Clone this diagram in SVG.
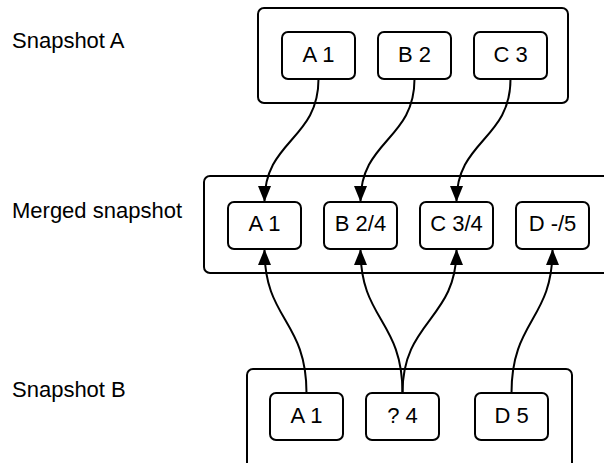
<svg xmlns="http://www.w3.org/2000/svg" width="604" height="463" viewBox="0 0 604 463">
  <style>
    .frame { fill: #fff; stroke: #000; stroke-width: 2; }
    .node rect { fill: #fff; stroke: #000; stroke-width: 2; }
    text { font-family: "Liberation Sans", Arial, sans-serif; font-size: 22px; fill: #000; }
    .node text { text-anchor: middle; }
    .link { fill: none; stroke: #000; stroke-width: 2; marker-end: url(#arrow); }
  </style>
  <defs>
    <marker id="arrow" markerUnits="userSpaceOnUse" viewBox="0 0 16 13" refX="15" refY="6.5" markerWidth="16" markerHeight="13" orient="auto">
      <path d="M0 0 L16 6.5 L0 13 Z" fill="#000"/>
    </marker>
  </defs>

  <!-- row labels -->
  <text x="12" y="48">Snapshot A</text>
  <text x="12" y="218">Merged snapshot</text>
  <text x="12" y="397">Snapshot B</text>

  <!-- container frames -->
  <rect class="frame" x="258" y="8" width="310" height="95" rx="6"/>
  <rect class="frame" x="204" y="176" width="420" height="97" rx="6"/>
  <rect class="frame" x="247" y="369" width="325" height="110" rx="6"/>

  <!-- Snapshot A -->
  <g id="a-a1" class="node"><rect x="282" y="32" width="73" height="47" rx="6"/><text x="318.5" y="62">A 1</text></g>
  <g id="a-b2" class="node"><rect x="378" y="32" width="73" height="47" rx="6"/><text x="414.5" y="62">B 2</text></g>
  <g id="a-c3" class="node"><rect x="474" y="32" width="73" height="47" rx="6"/><text x="510.5" y="62">C 3</text></g>

  <!-- Merged snapshot -->
  <g id="m-a1" class="node"><rect x="228" y="202" width="73" height="47" rx="6"/><text x="264.5" y="230.5">A 1</text></g>
  <g id="m-b" class="node"><rect x="324" y="202" width="73" height="47" rx="6"/><text x="360.5" y="230.5">B 2/4</text></g>
  <g id="m-c" class="node"><rect x="420" y="202" width="73" height="47" rx="6"/><text x="456.5" y="230.5">C 3/4</text></g>
  <g id="m-d" class="node"><rect x="516" y="202" width="73" height="47" rx="6"/><text x="552.5" y="230.5">D -/5</text></g>

  <!-- Snapshot B -->
  <g id="b-a1" class="node"><rect x="270" y="393" width="73" height="47" rx="6"/><text x="306.5" y="423">A 1</text></g>
  <g id="b-q4" class="node"><rect x="366" y="393" width="73" height="47" rx="6"/><text x="402.5" y="423">? 4</text></g>
  <g id="b-d5" class="node"><rect x="475" y="393" width="73" height="47" rx="6"/><text x="511.5" y="423">D 5</text></g>

  <!-- connectors -->
  <g id="links">
    <path class="link" d="M318.5 79 C318.5 140 264.5 140 264.5 201"/>
    <path class="link" d="M414.5 79 C414.5 140 360.5 140 360.5 201"/>
    <path class="link" d="M510.5 79 C510.5 140 456.5 140 456.5 201"/>
    <path class="link" d="M306.5 393 C306.5 320 264.5 320 264.5 250"/>
    <path class="link" d="M402.5 393 C402.5 320 360.5 320 360.5 250"/>
    <path class="link" d="M402.5 393 C402.5 320 456.5 320 456.5 250"/>
    <path class="link" d="M511.5 393 C511.5 320 552.5 320 552.5 250"/>
  </g>
</svg>
